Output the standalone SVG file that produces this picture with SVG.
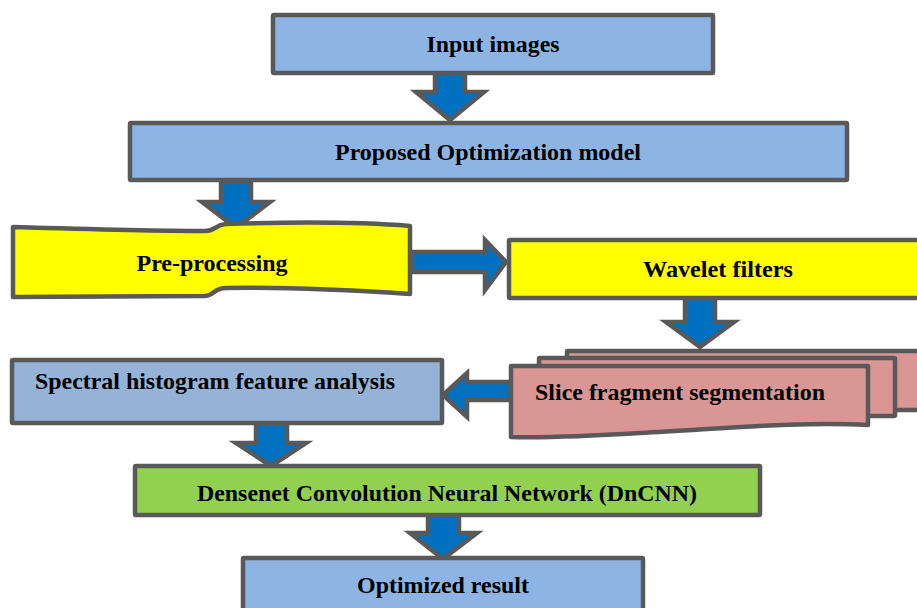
<svg xmlns="http://www.w3.org/2000/svg" width="917" height="608" viewBox="0 0 917 608">
  <style>
    .box { stroke: #595959; stroke-width: 4.5; stroke-linejoin: round; }
    .blue { fill: #8EB4E3; }
    .steel { fill: #95B3D7; }
    .yellow { fill: #FFFF00; }
    .pink { fill: #D99694; }
    .green { fill: #92D050; }
    .arrow { fill: #0070C0; stroke: #595959; stroke-width: 4.5; stroke-linejoin: miter; }
    .label { font-family: "Liberation Serif", "Times New Roman", serif; font-weight: bold; font-size: 23px; fill: #000000; }
  </style>
  <rect width="917" height="608" fill="#FFFFFF"/>

  <!-- Connectors: block arrows between stages -->
  <g id="connectors">
    <polygon class="arrow" points="435,73 465,73 465,92 484,92 450,120 416,92 435,92"/>
    <polygon class="arrow" points="221,181 251,181 251,202 270,202 236,228 202,202 221,202"/>
    <polygon class="arrow" points="412,252 485,252 485,240 506,262 485,290 485,272 412,272"/>
    <polygon class="arrow" points="685,298 715,298 715,322 734,322 700,347 666,322 685,322"/>
    <polygon class="arrow" points="511,382 467,382 467,373 443,395 467,417 467,400 511,400"/>
    <polygon class="arrow" points="256,423 287,423 287,443 306,443 271,466 236,443 256,443"/>
    <polygon class="arrow" points="428,515 459,515 459,533 477,533 443,559 410,533 428,533"/>
  </g>

  <g id="input-images">
    <rect class="box blue" x="273" y="15" width="440" height="58" rx="1"/>
    <text class="label" x="493" y="52" text-anchor="middle" textLength="133" lengthAdjust="spacingAndGlyphs">Input images</text>
  </g>

  <g id="optimization-model">
    <rect class="box blue" x="130" y="123" width="717" height="57" rx="1"/>
    <text class="label" x="488" y="160" text-anchor="middle" textLength="306" lengthAdjust="spacingAndGlyphs">Proposed Optimization model</text>
  </g>

  <g id="pre-processing">
    <path class="box yellow" d="M13,227 C80,229 150,231 205,231 C216,231 214,225 226,224 C290,222 360,222 410,226 L410,294 C350,290 285,287 226,288 C213,288 216,295 205,296 L13,297 Z"/>
    <text class="label" x="212" y="271" text-anchor="middle" textLength="151" lengthAdjust="spacingAndGlyphs">Pre-processing</text>
  </g>

  <g id="wavelet-filters">
    <rect class="box yellow" x="509" y="240" width="420" height="58" rx="1"/>
    <text class="label" x="718" y="277" text-anchor="middle" textLength="150" lengthAdjust="spacingAndGlyphs">Wavelet filters</text>
  </g>

  <g id="slice-fragment-segmentation">
    <rect class="box pink" x="567" y="351" width="360" height="59" rx="1"/>
    <rect class="box pink" x="539" y="358" width="356" height="58" rx="1"/>
    <path class="box pink" d="M511,366 L868,366 L868,425 C800,421 720,429 640,433 C590,436 550,438 511,437 Z"/>
    <text class="label" x="535" y="400" textLength="290" lengthAdjust="spacingAndGlyphs">Slice fragment segmentation</text>
  </g>

  <g id="spectral-histogram">
    <rect class="box steel" x="12" y="360" width="430" height="63" rx="1"/>
    <text class="label" x="35" y="389" textLength="360" lengthAdjust="spacingAndGlyphs">Spectral histogram feature analysis</text>
  </g>

  <g id="dncnn">
    <rect class="box green" x="135" y="466" width="625" height="49" rx="1"/>
    <text class="label" x="447" y="501" text-anchor="middle" textLength="500" lengthAdjust="spacingAndGlyphs">Densenet Convolution Neural Network (DnCNN)</text>
  </g>

  <g id="optimized-result">
    <rect class="box blue" x="243" y="558" width="400" height="70" rx="1"/>
    <text class="label" x="443" y="593" text-anchor="middle" textLength="172" lengthAdjust="spacingAndGlyphs">Optimized result</text>
  </g>
</svg>
